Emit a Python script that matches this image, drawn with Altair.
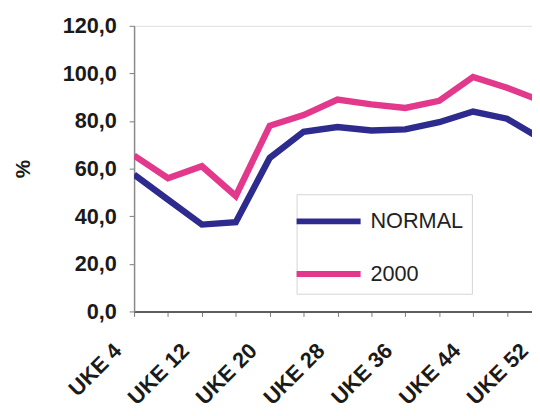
import altair as alt
import pandas as pd

weeks = ["UKE 4", "UKE 8", "UKE 12", "UKE 16", "UKE 20", "UKE 24", "UKE 28",
         "UKE 32", "UKE 36", "UKE 40", "UKE 44", "UKE 48", "UKE 52"]
shown_labels = ["UKE 4", "UKE 12", "UKE 20", "UKE 28", "UKE 36", "UKE 44", "UKE 52"]
normal = [57.5, 47, 36.5, 37.5, 64.5, 75.5, 77.5, 76, 76.5, 79.5, 84, 81, 72.5]
y2000 = [65.5, 56, 61, 48.5, 78, 82.5, 89, 87, 85.5, 88.5, 98.5, 94, 88.5]
series = ["NORMAL", "2000"]
colors = ["#2E2B8E", "#E2398C"]
y_ticks = [0, 20, 40, 60, 80, 100, 120]

rows = []
for name, vals in zip(series, [normal, y2000]):
    for w, v in zip(weeks, vals):
        rows.append({"uke": w, "verdi": v, "serie": name})
df = pd.DataFrame(rows)

label_list = "[" + ",".join("'" + s + "'" for s in shown_labels) + "]"

W = 404
FULL = 413  # plot continues past the right edge of the picture

chart = alt.Chart(df).mark_line(strokeWidth=6.5, clip=True).encode(
    x=alt.X("uke:O", sort=weeks,
            scale=alt.Scale(type="point", padding=0, range=[0, FULL]),
            axis=alt.Axis(title=None, labelAngle=-45, labelAlign="right",
                          labelBaseline="middle", labelOffset=-17,
                          labelPadding=31, tickSize=5, tickColor="#7a7a7a",
                          domainColor="#5e5e5e", domainWidth=2,
                          labelFont="Liberation Sans", labelFontWeight="bold",
                          labelFontSize=22, labelColor="#1a1a1a",
                          labelExpr="indexof(" + label_list + ", datum.label) >= 0 ? datum.label : ''")),
    y=alt.Y("verdi:Q",
            scale=alt.Scale(domain=[0, 120], nice=False, zero=True),
            axis=alt.Axis(title="%", values=y_ticks, grid=False, tickSize=5,
                          tickColor="#7a7a7a", domainColor="#8a8a8a", domainWidth=1.5,
                          labelPadding=13, labelFont="Liberation Sans",
                          labelFontWeight="bold", labelFontSize=22,
                          labelColor="#1a1a1a",
                          labelExpr="replace(format(datum.value, '.1f'), '.', ',')",
                          titleFont="Liberation Sans", titleFontSize=21,
                          titleFontWeight="bold", titleColor="#1a1a1a",
                          titlePadding=29)),
    color=alt.Color("serie:N", sort=series,
                    scale=alt.Scale(domain=series, range=colors),
                    legend=alt.Legend(title=None, orient="none", legendX=165, legendY=171,
                                      symbolType="M-2,0H2", symbolSize=1056,
                                      symbolStrokeWidth=6, symbolOffset=5,
                                      labelOffset=23, rowPadding=21.5, padding=8,
                                      fillColor="white", strokeColor="#d4d4d4",
                                      labelFont="Liberation Sans", labelFontSize=22,
                                      labelColor="#222222", labelLimit=200)),
).properties(
    width=W, height=290,
    autosize=alt.AutoSizeParams(type="none"),
    padding={"left": 128, "top": 15, "right": 0, "bottom": 100},
).configure_view(
    fill="#BFC3C9", stroke="transparent"
).configure(background="white")

chart.save("out.html", embed_options={"renderer": "svg", "actions": False})
